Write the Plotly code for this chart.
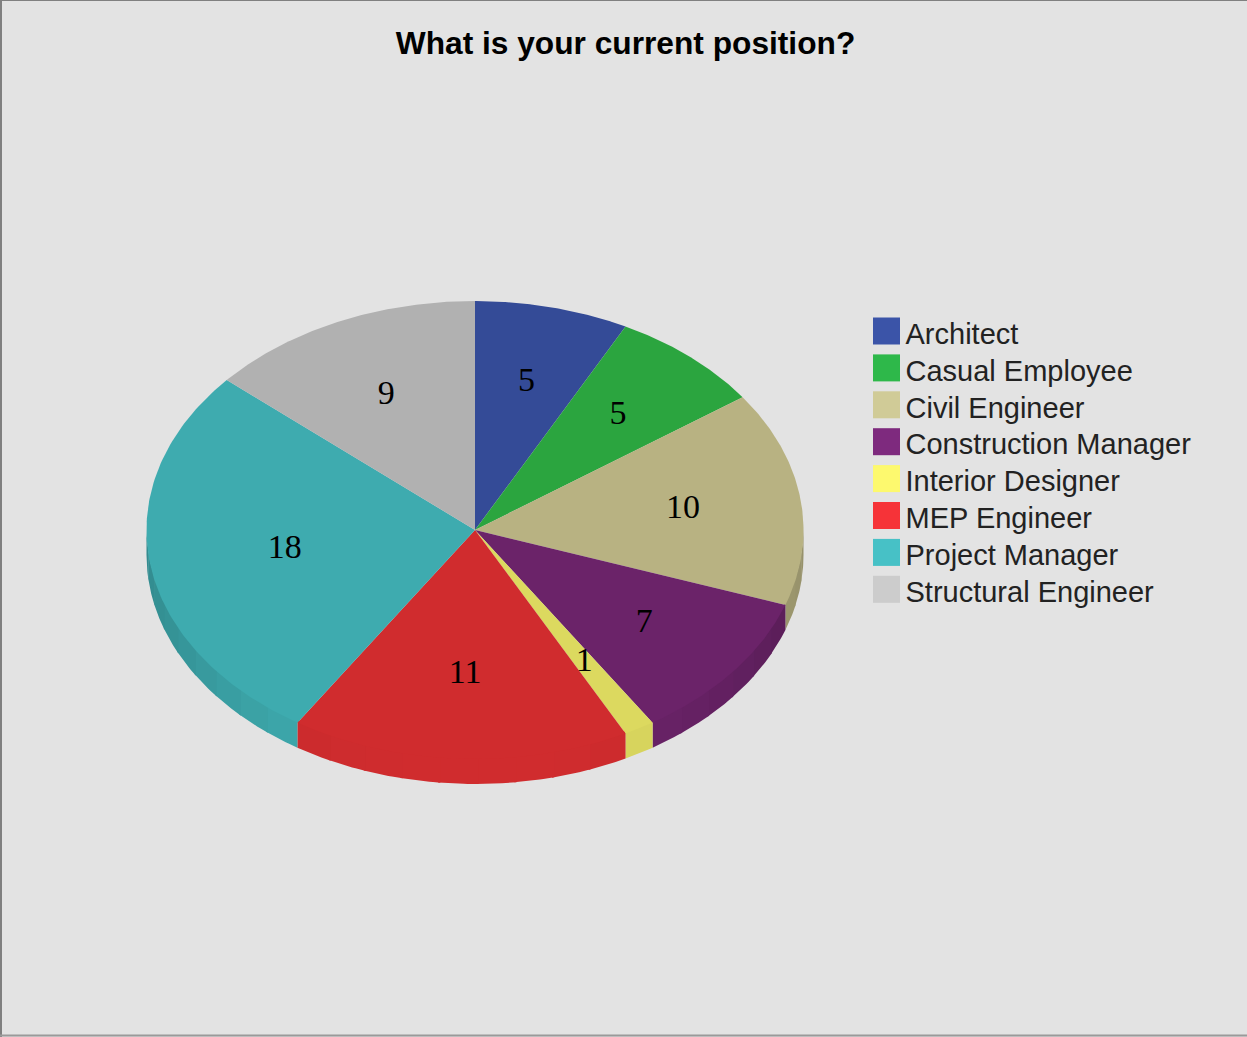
import numpy as np
import plotly.graph_objects as go

# Data
categories = ["Architect", "Casual Employee", "Civil Engineer", "Construction Manager",
              "Interior Designer", "MEP Engineer", "Project Manager", "Structural Engineer"]
counts = [5, 5, 10, 7, 1, 11, 18, 9]
title_text = "What is your current position?"

# Styles
top_colors = ["#344b97", "#2ba53f", "#b8b282", "#6b2369", "#dcd95f", "#d02c2e", "#3eabaf", "#b1b1b1"]
swatch_colors = ["#3b54a8", "#2eb84a", "#d0cb97", "#7e2a7e", "#fdf96e", "#f63338", "#47c1c6", "#cccccc"]
label_radius = [0.665, 0.665, 0.64, 0.655, 0.665, 0.63, 0.585, 0.65]

W, H = 1247, 1037
CX, CY, RX, RY, DEPTH = 475.0, 530.0, 328.5, 229.0, 25.0
BG = "#e3e3e3"
SERIF = "Liberation Serif"
SANS = "Liberation Sans"


def ellipse_xy(deg, frac=1.0):
    a = np.radians(deg)
    return CX + RX * frac * np.sin(a), CY - RY * frac * np.cos(a)


def shaded(hex_color, deg):
    k = 1 - 0.18 * abs(np.sin(np.radians(deg))) ** 3
    r, g, b = (int(hex_color[j:j + 2], 16) for j in (1, 3, 5))
    return f"rgb({r * k:.0f},{g * k:.0f},{b * k:.0f})"


fig = go.Figure()
total = sum(counts)
edges = np.concatenate([[0], np.cumsum(counts)]) * 360.0 / total

# Visible side wall (front half of the disc) in shaded bands, then the top face.
# Each band starts a little above the rim so that no background shows along the seam.
BAND = 7.0
TUCK = 3.0
for i in range(len(counts)):
    lo, hi = max(edges[i], 90.0), min(edges[i + 1], 270.0)
    if hi <= lo:
        continue
    n = max(1, int(np.ceil((hi - lo) / BAND)))
    cuts = np.linspace(lo, hi, n + 1)
    for j in range(n):
        t = np.linspace(cuts[j], min(cuts[j + 1] + 0.4, hi), 12)
        x, y = ellipse_xy(t)
        fig.add_trace(go.Scatter(
            x=np.concatenate([x, x[::-1]]), y=np.concatenate([y - TUCK, y[::-1] + DEPTH]),
            mode="lines", fill="toself",
            fillcolor=shaded(top_colors[i], (cuts[j] + cuts[j + 1]) / 2),
            line=dict(width=0), hoverinfo="skip", showlegend=False))

for i, name in enumerate(categories):
    t = np.linspace(edges[i], edges[i + 1], 120)
    x, y = ellipse_xy(t)
    fig.add_trace(go.Scatter(
        x=np.concatenate([[CX], x, [CX]]), y=np.concatenate([[CY], y, [CY]]),
        mode="lines", fill="toself", fillcolor=top_colors[i],
        line=dict(width=0), name=name, text=f"{name}: {counts[i]}",
        hoverinfo="text", showlegend=False))

# Value labels
mids = (edges[:-1] + edges[1:]) / 2
lx, ly = zip(*[ellipse_xy(m, f) for m, f in zip(mids, label_radius)])
fig.add_trace(go.Scatter(
    x=lx, y=[v + 0.5 for v in ly], mode="text", text=[str(c) for c in counts],
    textposition="middle center",
    textfont=dict(family=SERIF, size=34, color="#000000"), hoverinfo="skip", showlegend=False))

# Legend
LEG_X, LEG_Y0, LEG_STEP = 886.5, 331.0, 36.9
leg_y = [LEG_Y0 + LEG_STEP * i for i in range(len(categories))]
fig.add_trace(go.Scatter(
    x=[LEG_X] * len(categories), y=leg_y, mode="markers", hoverinfo="skip", showlegend=False,
    marker=dict(symbol="square", size=27, color=swatch_colors, line=dict(width=0))))
fig.add_trace(go.Scatter(
    x=[LEG_X + 19.0] * len(categories), y=[v + 5.5 for v in leg_y], mode="text", text=categories,
    textposition="middle right", hoverinfo="skip", showlegend=False,
    textfont=dict(family=SANS, size=29, color="#222222")))

fig.update_layout(
    width=W, height=H, margin=dict(l=0, r=0, t=0, b=0), autosize=False,
    paper_bgcolor=BG, plot_bgcolor=BG, showlegend=False,
    title=dict(text=f"<b>{title_text}</b>", x=625.5 / W, xanchor="center", y=1 - 43.0 / H,
               yanchor="middle", font=dict(family=SANS, size=31.7, color="#000000")),
    xaxis=dict(range=[0, W], visible=False, fixedrange=True),
    yaxis=dict(range=[H, 0], visible=False, fixedrange=True),
    shapes=[
        dict(type="line", xref="paper", yref="paper", x0=0, x1=1, y0=1, y1=1,
             line=dict(color="#808080", width=2)),
        dict(type="line", xref="paper", yref="paper", x0=0, x1=0, y0=0, y1=1,
             line=dict(color="#808080", width=4)),
        dict(type="line", xref="paper", yref="paper", x0=0, x1=1, y0=1.5 / H, y1=1.5 / H,
             line=dict(color="#9a9a9a", width=2)),
    ],
)

fig.write_html("out.html", config={"displayModeBar": False},
               post_script="document.body.style.margin='0';document.body.style.overflow='hidden';")
